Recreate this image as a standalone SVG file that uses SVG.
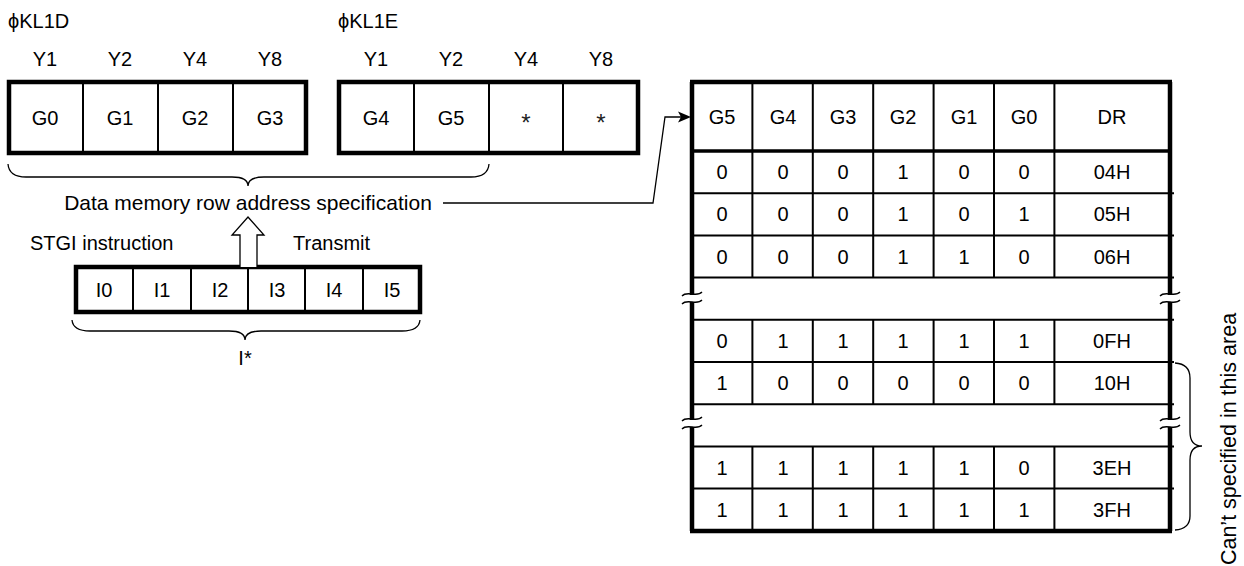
<svg xmlns="http://www.w3.org/2000/svg" width="1244" height="566" viewBox="0 0 1244 566">
<style>
text{font-family:"Liberation Sans",Arial,"DejaVu Sans",sans-serif;font-size:20px;fill:#000}
.c{text-anchor:middle}
.big{font-size:21px}
.thick{fill:none;stroke:#000;stroke-width:4.5}
.thin{fill:none;stroke:#000;stroke-width:2}
.hdr{fill:none;stroke:#000;stroke-width:3.5}
.line{fill:none;stroke:#000;stroke-width:1.3}
.ast{font-size:24px;fill:#222}
</style>
<rect width="1244" height="566" fill="#fff"/>

<g id="kl1d">
<text x="8" y="28">ϕKL1D</text>
<text class="c" x="45" y="66">Y1</text><text class="c" x="120" y="66">Y2</text><text class="c" x="195" y="66">Y4</text><text class="c" x="270" y="66">Y8</text>
<rect class="thick" x="9" y="82" width="297" height="71"/>
<path class="thin" d="M83,82V153M158,82V153M233,82V153"/>
<text class="c" x="45" y="125">G0</text><text class="c" x="120" y="125">G1</text><text class="c" x="195" y="125">G2</text><text class="c" x="270" y="125">G3</text>
</g>

<g id="kl1e">
<text x="338" y="28">ϕKL1E</text>
<text class="c" x="376" y="66">Y1</text><text class="c" x="451" y="66">Y2</text><text class="c" x="526" y="66">Y4</text><text class="c" x="601" y="66">Y8</text>
<rect class="thick" x="339" y="82" width="299" height="71"/>
<path class="thin" d="M414,82V153M489,82V153M563,82V153"/>
<text class="c" x="376" y="125">G4</text><text class="c" x="451" y="125">G5</text><text class="c ast" x="526" y="131">*</text><text class="c ast" x="601" y="131">*</text>
</g>

<g id="row-address-label">
<text class="c big" x="248" y="210">Data memory row address specification</text>
</g>

<g id="stgi">
<text x="30" y="250">STGI instruction</text>
<text x="293" y="250">Transmit</text>
<rect class="thick" x="76" y="267" width="344" height="45"/>
<path class="thin" d="M133,267V312M191,267V312M248,267V312M305,267V312M363,267V312"/>
<text class="c" x="104" y="297">I0</text><text class="c" x="162" y="297">I1</text><text class="c" x="220" y="297">I2</text><text class="c" x="277" y="297">I3</text><text class="c" x="334" y="297">I4</text><text class="c" x="392" y="297">I5</text>
<text class="c" x="245" y="365">I*</text>
</g>

<g id="table">
<path class="thick" d="M690,82H1172M690,531H1172M692,82V295M692,302V420M692,427V531M1170,82V295M1170,302V420M1170,427V531"/>
<path class="hdr" d="M692,151H1170"/>
<path class="thin" d="M692,193.2H1174M692,235.4H1174M692,277.6H1174M692,319.8H1174M692,362H1174M692,404.2H1174M692,446.4H1174M692,488.6H1174"/>
<path class="thin" d="M752.4,82V277.6M812.8,82V277.6M873.2,82V277.6M933.6,82V277.6M994,82V277.6M1054.4,82V277.6M752.4,319.8V404.2M812.8,319.8V404.2M873.2,319.8V404.2M933.6,319.8V404.2M994,319.8V404.2M1054.4,319.8V404.2M752.4,446.4V531M812.8,446.4V531M873.2,446.4V531M933.6,446.4V531M994,446.4V531M1054.4,446.4V531"/>
<path class="line" d="M682,296C687,290 697,298 702,292M682,304C687,298 697,306 702,300M1160,296C1165,290 1175,298 1180,292M1160,304C1165,298 1175,306 1180,300M682,421C687,415 697,423 702,417M682,429C687,423 697,431 702,425M1160,421C1165,415 1175,423 1180,417M1160,429C1165,423 1175,431 1180,425"/>
<g class="c">
<text x="722" y="124">G5</text><text x="783" y="124">G4</text><text x="843" y="124">G3</text><text x="903" y="124">G2</text><text x="964" y="124">G1</text><text x="1024" y="124">G0</text><text x="1112" y="124">DR</text>
<text x="722" y="179">0</text><text x="783" y="179">0</text><text x="843" y="179">0</text><text x="903" y="179">1</text><text x="964" y="179">0</text><text x="1024" y="179">0</text><text x="1112" y="179">04H</text>
<text x="722" y="221">0</text><text x="783" y="221">0</text><text x="843" y="221">0</text><text x="903" y="221">1</text><text x="964" y="221">0</text><text x="1024" y="221">1</text><text x="1112" y="221">05H</text>
<text x="722" y="264">0</text><text x="783" y="264">0</text><text x="843" y="264">0</text><text x="903" y="264">1</text><text x="964" y="264">1</text><text x="1024" y="264">0</text><text x="1112" y="264">06H</text>
<text x="722" y="348">0</text><text x="783" y="348">1</text><text x="843" y="348">1</text><text x="903" y="348">1</text><text x="964" y="348">1</text><text x="1024" y="348">1</text><text x="1112" y="348">0FH</text>
<text x="722" y="390">1</text><text x="783" y="390">0</text><text x="843" y="390">0</text><text x="903" y="390">0</text><text x="964" y="390">0</text><text x="1024" y="390">0</text><text x="1112" y="390">10H</text>
<text x="722" y="475">1</text><text x="783" y="475">1</text><text x="843" y="475">1</text><text x="903" y="475">1</text><text x="964" y="475">1</text><text x="1024" y="475">0</text><text x="1112" y="475">3EH</text>
<text x="722" y="517">1</text><text x="783" y="517">1</text><text x="843" y="517">1</text><text x="903" y="517">1</text><text x="964" y="517">1</text><text x="1024" y="517">1</text><text x="1112" y="517">3FH</text>
</g>
</g>

<g id="area-label">
<text class="c" style="font-size:21.5px" transform="translate(1236,439) rotate(-90)">Can’t specified in this area</text>
</g>

<g id="connectors">
<path class="line" d="M8,164Q9,177 26,177L232,177Q248,177 248,186Q248,177 264,177L471,177Q488,177 489,164"/>
<path class="line" d="M72,320Q73,331 90,331L229,331Q245,331 245,340Q245,331 261,331L402,331Q419,331 420,320"/>
<path class="line" d="M1175,363Q1190,364 1190,378L1190,432Q1190,446 1202,446Q1190,446 1190,460L1190,516Q1190,529 1175,530"/>
<path class="line" d="M443,203H653L665,117H684"/>
<path d="M691,117L678,111.5L681,117L678,122.5Z" fill="#000"/>
<path d="M240,267V235H232L248,217L264,235H257V267" fill="#fff" stroke="#000" stroke-width="1.3"/>
</g>
</svg>
